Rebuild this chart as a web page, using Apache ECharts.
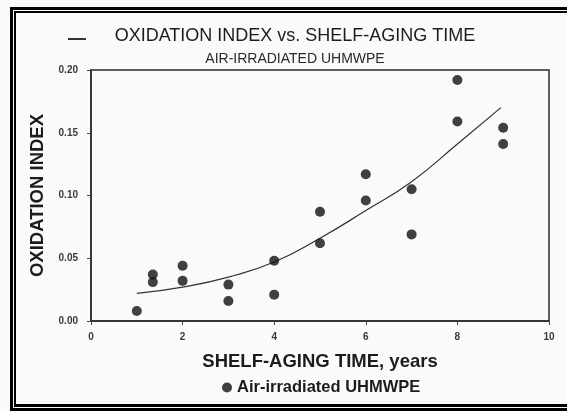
<!DOCTYPE html>
<html>
<head>
<meta charset="utf-8">
<title>Oxidation index vs. shelf-aging time</title>
<script src="https://cdn.jsdelivr.net/npm/echarts@6/dist/echarts.min.js"></script>
<style>
  html, body { margin: 0; padding: 0; background: #fbf9fb; }
  #chart { width: 567px; height: 411px; }
</style>
</head>
<body>
<div id="chart"></div>
<script>
const years = [1, 1.35, 1.35, 2, 2, 3, 3, 4, 4, 5, 5, 6, 6, 7, 7, 8, 8, 9, 9];
const oxidation = [0.008, 0.037, 0.031, 0.044, 0.032, 0.029, 0.016, 0.048, 0.021,
    0.087, 0.062, 0.117, 0.096, 0.105, 0.069, 0.192, 0.159, 0.154, 0.141];

// fitted trend line, read at a few x positions
const fitYears = [1, 2, 3, 4, 5, 6, 7, 8, 8.95];
const fitValues = [0.022, 0.027, 0.035, 0.047, 0.066, 0.088, 0.111, 0.141, 0.170];

const xTicks = [0, 2, 4, 6, 8, 10];
const yTicks = [0, 0.05, 0.10, 0.15, 0.20];

const font = 'Liberation Sans, Arial, sans-serif';
const ink = '#1c1c1c';

const chart = echarts.init(document.getElementById('chart'));

const pts = years.map((x, i) => [x, oxidation[i]]);
const fit = fitYears.map((x, i) => [x, fitValues[i]]);

chart.setOption({
    backgroundColor: '#fbf9fb',
    animation: false,
    title: {
        text: 'OXIDATION INDEX vs. SHELF-AGING TIME',
        subtext: 'AIR-IRRADIATED UHMWPE',
        left: 290,
        textAlign: 'center',
        top: 22,
        itemGap: 7,
        textStyle: { fontFamily: font, fontSize: 18, fontWeight: 'normal', color: ink },
        subtextStyle: { fontFamily: font, fontSize: 14, color: '#2a2a2a' }
    },
    legend: {
        data: ['Air-irradiated UHMWPE'],
        left: 217,
        top: 374,
        icon: 'circle',
        itemWidth: 10,
        itemHeight: 10,
        itemGap: 5,
        textStyle: { fontFamily: font, fontSize: 16.5, fontWeight: 'bold', color: ink }
    },
    grid: {
        left: 91, right: 18, top: 70, bottom: 90,
        show: true,
        borderColor: '#2a2a2a',
        borderWidth: 1.5
    },
    xAxis: {
        type: 'value',
        min: 0, max: 10, interval: 2,
        name: 'SHELF-AGING TIME, years',
        nameLocation: 'middle',
        nameGap: 31,
        nameTextStyle: { fontFamily: font, fontSize: 18.5, fontWeight: 'bold', color: ink },
        axisLine: { show: true, lineStyle: { color: '#2a2a2a', width: 1.5 } },
        axisTick: { show: true, length: 4, lineStyle: { color: '#444' } },
        axisLabel: {
            margin: 11, fontFamily: font, fontSize: 10, fontWeight: 'bold', color: '#3a3a3a',
            formatter: v => xTicks.includes(v) ? String(v) : ''
        },
        splitLine: { show: false }
    },
    yAxis: {
        type: 'value',
        min: 0, max: 0.2, interval: 0.05,
        name: 'OXIDATION INDEX',
        nameLocation: 'middle',
        nameGap: 44,
        nameTextStyle: { fontFamily: font, fontSize: 18.5, fontWeight: 'bold', color: ink },
        axisLine: { show: true, lineStyle: { color: '#2a2a2a', width: 1.5 } },
        axisTick: { show: true, length: 4, lineStyle: { color: '#444' } },
        axisLabel: {
            margin: 13, fontFamily: font, fontSize: 10, fontWeight: 'bold', color: '#3a3a3a',
            formatter: v => yTicks.some(t => Math.abs(t - v) < 1e-9) ? v.toFixed(2) : ''
        },
        splitLine: { show: false }
    },
    series: [
        {
            name: 'fit',
            type: 'line',
            data: fit,
            smooth: true,
            showSymbol: false,
            lineStyle: { color: '#333', width: 1.2 },
            z: 2
        },
        {
            name: 'Air-irradiated UHMWPE',
            type: 'scatter',
            data: pts,
            symbol: 'circle',
            symbolSize: 10,
            itemStyle: { color: '#111' },
            z: 3
        }
    ],
    graphic: [
        // double frame round the figure
        { type: 'rect', shape: { x: 10, y: 7, width: 557, height: 3 }, style: { fill: '#000' } },
        { type: 'rect', shape: { x: 10, y: 7, width: 3, height: 404 }, style: { fill: '#000' } },
        { type: 'rect', shape: { x: 14, y: 11, width: 553, height: 2 }, style: { fill: '#000' } },
        { type: 'rect', shape: { x: 14, y: 11, width: 2, height: 396 }, style: { fill: '#000' } },
        { type: 'rect', shape: { x: 14, y: 404, width: 553, height: 3 }, style: { fill: '#000' } },
        { type: 'rect', shape: { x: 10, y: 408, width: 557, height: 3 }, style: { fill: '#000' } },
        // small dash left of the title
        { type: 'rect', shape: { x: 68, y: 38, width: 18, height: 2 }, style: { fill: '#333' } }
    ]
});
</script>
</body>
</html>
